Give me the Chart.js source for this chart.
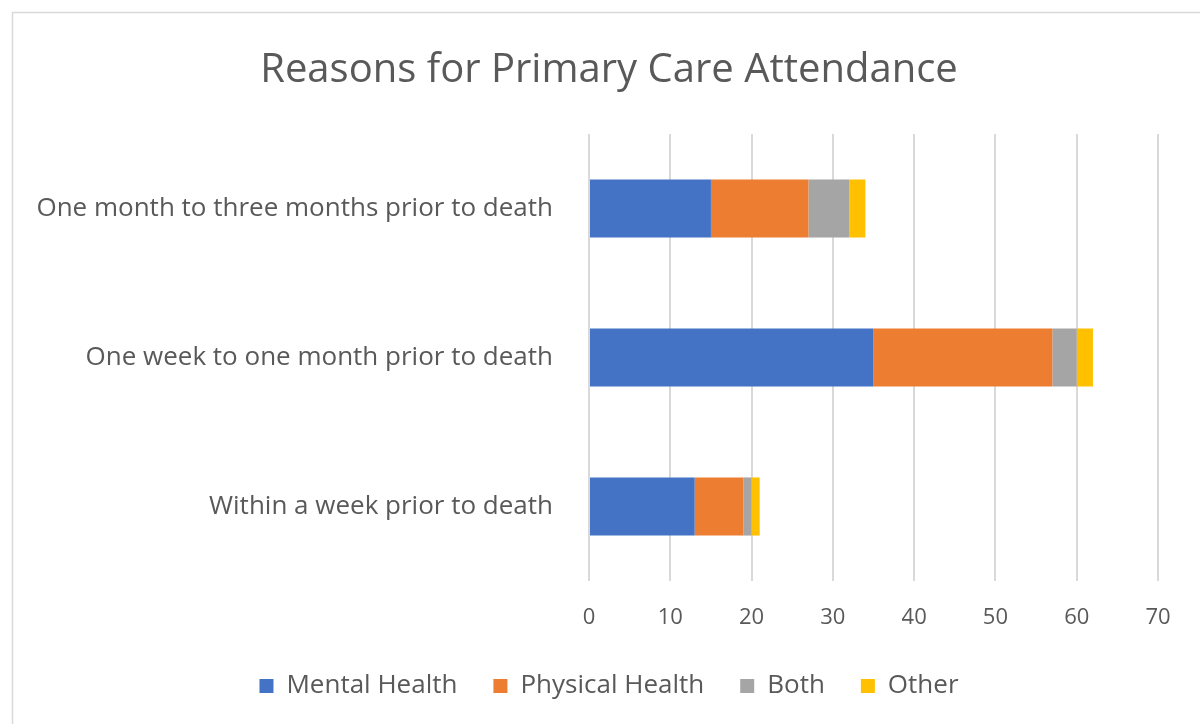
<!DOCTYPE html>
<html>
<head>
<meta charset="utf-8">
<script src="https://cdn.jsdelivr.net/npm/chart.js@4/dist/chart.umd.min.js"></script>
<style>
  html, body { margin: 0; padding: 0; background: #fff; }
  #wrap { width: 1200px; height: 724px; position: relative; }
</style>
</head>
<body>
<div id="wrap"><canvas id="grafico"></canvas></div>
<script>
// datos
const categorias = [
    'One month to three months prior to death',
    'One week to one month prior to death',
    'Within a week prior to death'
];
const mentalHealth = [15, 35, 13];
const physicalHealth = [12, 22, 6];
const both = [5, 3, 1];
const other = [2, 2, 1];

const fuente = '"Open Sans", Lato, sans-serif';
const gris = '#595959';

// borde del area del grafico
const bordeGrafico = {
    id: 'bordeGrafico',
    beforeDraw(chart) {
        const c = chart.ctx;
        c.save();
        c.fillStyle = '#fff';
        c.fillRect(0, 0, chart.width, chart.height);
        c.strokeStyle = '#d9d9d9';
        c.lineWidth = 1.5;
        c.strokeRect(12.5, 12.5, chart.width + 10, chart.height + 10);
        c.restore();
    }
};

const ctx = document.getElementById('grafico').getContext('2d');
const myChart = new Chart(ctx, {
    type: 'bar',
    data: {
        labels: categorias,
        datasets: [
            { label: 'Mental Health', data: mentalHealth, backgroundColor: '#4472C4' },
            { label: 'Physical Health', data: physicalHealth, backgroundColor: '#ED7D31' },
            { label: 'Both', data: both, backgroundColor: '#A5A5A5' },
            { label: 'Other', data: other, backgroundColor: '#FFC000' }
        ]
    },
    plugins: [bordeGrafico],
    options: {
        indexAxis: 'y',
        responsive: true,
        maintainAspectRatio: false,
        animation: false,
        datasets: {
            bar: { categoryPercentage: 0.39, barPercentage: 1.0, borderWidth: 0 }
        },
        layout: { padding: { top: 30, left: 30, right: 12, bottom: 15 } },
        plugins: {
            title: {
                display: true,
                text: 'Reasons for Primary Care Attendance',
                color: gris,
                font: { family: fuente, size: 40, weight: 'normal' },
                padding: { top: 17, bottom: 39 }
            },
            legend: {
                position: 'bottom',
                labels: {
                    color: gris,
                    font: { family: fuente, size: 26 },
                    boxWidth: 14,
                    boxHeight: 14,
                    padding: 36
                }
            },
            tooltip: { enabled: false }
        },
        scales: {
            x: {
                stacked: true,
                min: 0,
                max: 70,
                ticks: {
                    stepSize: 10,
                    color: gris,
                    font: { family: fuente, size: 22 },
                    padding: 24
                },
                grid: { color: '#d9d9d9', lineWidth: 2, drawTicks: false },
                border: { display: false },
                afterFit(scale) { scale.height = 56; }
            },
            y: {
                stacked: true,
                ticks: {
                    color: gris,
                    font: { family: fuente, size: 26 },
                    padding: 36
                },
                grid: { display: false, drawTicks: false },
                border: { display: false },
                afterFit(scale) { scale.width = 559; }
            },
            // espacio vacio a la derecha del area de trazado
            derecha: {
                axis: 'y',
                type: 'linear',
                position: 'right',
                ticks: { display: false },
                grid: { display: false },
                border: { display: false },
                afterFit(scale) { scale.width = 30; }
            }
        }
    }
});
</script>
</body>
</html>
